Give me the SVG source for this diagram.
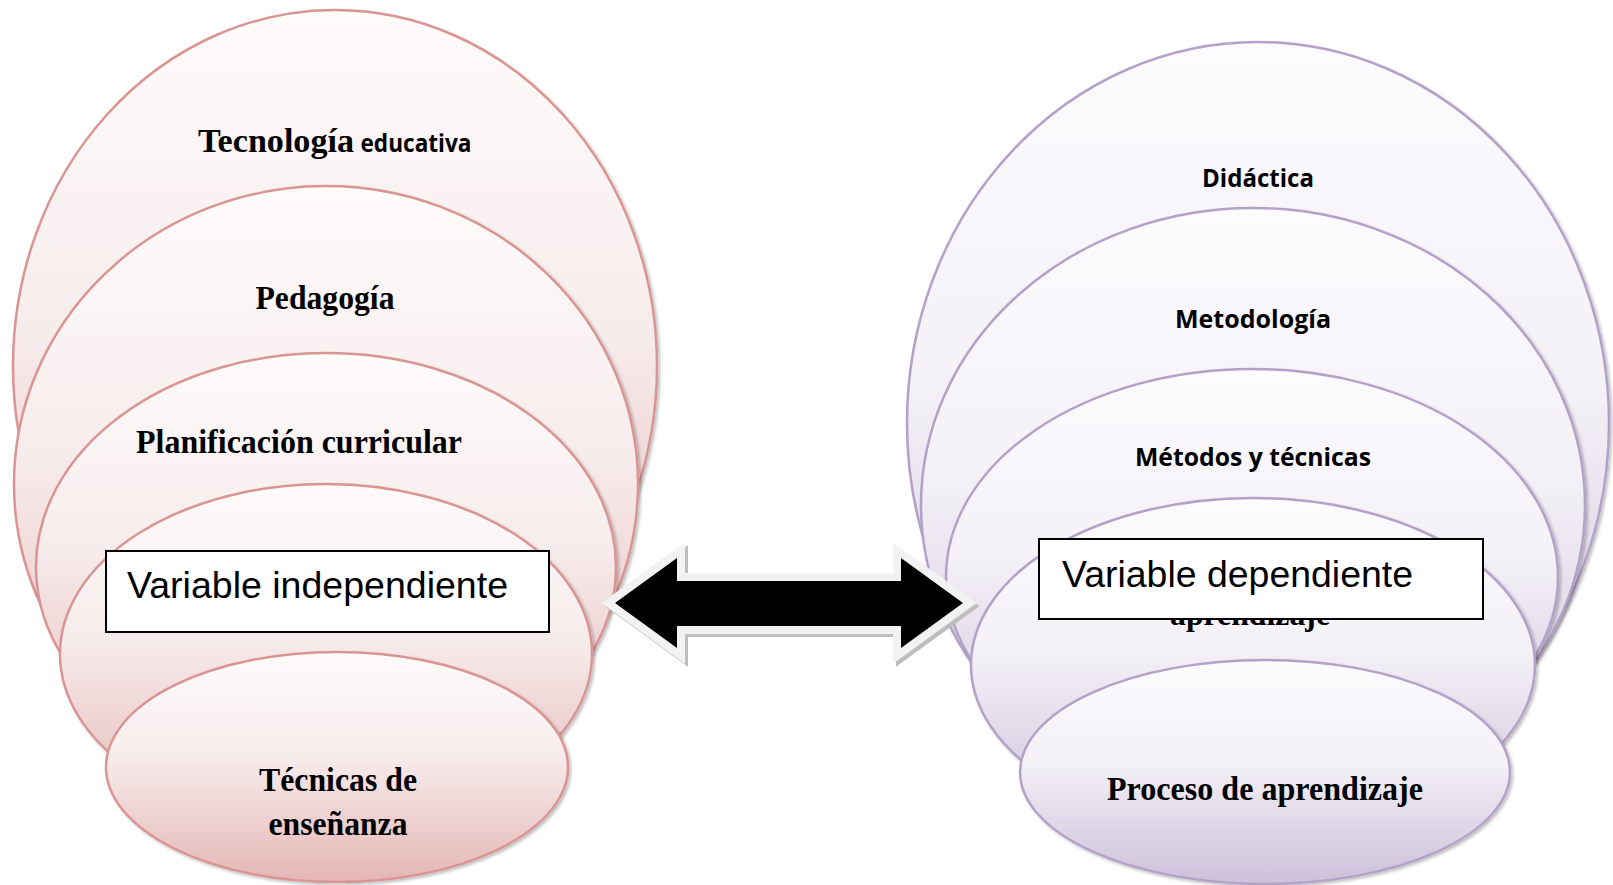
<svg xmlns="http://www.w3.org/2000/svg" width="1613" height="885" viewBox="0 0 1613 885">
<defs>
<linearGradient id="gp" x1="0" y1="0" x2="0" y2="1">
<stop offset="0" stop-color="#fefbfb"/>
<stop offset="0.45" stop-color="#f7ecec"/>
<stop offset="1" stop-color="#e4b6b5"/>
</linearGradient>
<linearGradient id="gv" x1="0" y1="0" x2="0" y2="1">
<stop offset="0" stop-color="#fcfbfd"/>
<stop offset="0.45" stop-color="#f4f1f7"/>
<stop offset="1" stop-color="#ccc0da"/>
</linearGradient>
<filter id="sh" x="-5%" y="-5%" width="115%" height="115%">
<feDropShadow dx="2" dy="2" stdDeviation="1.5" flood-color="#000" flood-opacity="0.25"/>
</filter>
</defs>
<style>
.pk{fill:url(#gp);stroke:#d99594;stroke-width:2.5;filter:url(#sh)}
.pu{fill:url(#gv);stroke:#b3a2c7;stroke-width:2.5;filter:url(#sh)}
.tr{font-family:"Liberation Serif","Times New Roman",serif;font-weight:bold;font-size:34px;fill:#000;text-anchor:middle}
.ca{font-family:"Open Sans","Noto Sans",sans-serif;font-weight:bold;font-size:25px;fill:#000;text-anchor:middle}
.bx{fill:#fff;stroke:#000;stroke-width:2}
.ar{font-family:"Liberation Sans",Arial,sans-serif;font-size:37px;fill:#000}
</style>
<rect width="1613" height="885" fill="#fff"/>

<g id="left-tecnologia">
<ellipse class="pk" cx="335" cy="366" rx="322" ry="356"/>
<text class="tr" x="276" y="152" text-anchor="middle" textLength="156" lengthAdjust="spacingAndGlyphs">Tecnología</text>
<text class="ca" x="416" y="152" textLength="111" lengthAdjust="spacingAndGlyphs">educativa</text>
</g>
<g id="left-pedagogia">
<ellipse class="pk" cx="326" cy="484" rx="312" ry="298"/>
<text class="tr" x="325" y="309" textLength="139" lengthAdjust="spacingAndGlyphs">Pedagogía</text>
</g>
<g id="left-planificacion">
<ellipse class="pk" cx="326" cy="567" rx="290" ry="214"/>
<text class="tr" x="299" y="453" textLength="326" lengthAdjust="spacingAndGlyphs">Planificación curricular</text>
</g>
<g id="left-inner">
<ellipse class="pk" cx="326" cy="654" rx="266" ry="170"/>
</g>
<g id="left-tecnicas">
<ellipse class="pk" cx="337" cy="767" rx="231" ry="115"/>
<text class="tr" x="338" y="791" textLength="158" lengthAdjust="spacingAndGlyphs">Técnicas de</text>
<text class="tr" x="338" y="835" textLength="139" lengthAdjust="spacingAndGlyphs">enseñanza</text>
</g>

<g id="right-didactica">
<ellipse class="pu" cx="1258" cy="423" rx="351" ry="381"/>
<text class="ca" x="1258" y="187" textLength="112" lengthAdjust="spacingAndGlyphs">Didáctica</text>
</g>
<g id="right-metodologia">
<ellipse class="pu" cx="1253" cy="505" rx="332" ry="297"/>
<text class="ca" x="1253" y="328" textLength="156" lengthAdjust="spacingAndGlyphs">Metodología</text>
</g>
<g id="right-metodos">
<ellipse class="pu" cx="1252" cy="577" rx="306" ry="208"/>
<text class="ca" x="1253" y="466" textLength="236" lengthAdjust="spacingAndGlyphs">Métodos y técnicas</text>
</g>
<g id="right-ensenanza">
<ellipse class="pu" cx="1253" cy="665" rx="282" ry="167"/>
<text class="tr" x="1250" y="625" textLength="160" lengthAdjust="spacingAndGlyphs">aprendizaje</text>
</g>
<g id="right-proceso">
<ellipse class="pu" cx="1265" cy="772" rx="245" ry="112"/>
<text class="tr" x="1265" y="800" textLength="316" lengthAdjust="spacingAndGlyphs">Proceso de aprendizaje</text>
</g>

<g id="connectors">
<polygon points="615,603 677,558 677,581 901,581 901,558 963,603 901,648 901,626 677,626 677,648" transform="translate(3,3)" fill="none" stroke="#bdbdbd" stroke-width="16" stroke-linejoin="miter"/>
<polygon points="615,603 677,558 677,581 901,581 901,558 963,603 901,648 901,626 677,626 677,648" fill="#000" stroke="#f2f2f2" stroke-width="16" stroke-linejoin="miter"/>
<polygon points="615,603 677,558 677,581 901,581 901,558 963,603 901,648 901,626 677,626 677,648" fill="#000"/>
</g>

<g id="box-independiente">
<rect class="bx" x="106" y="551" width="443" height="81"/>
<text class="ar" x="127" y="598" textLength="381" lengthAdjust="spacingAndGlyphs">Variable independiente</text>
</g>
<g id="box-dependiente">
<rect class="bx" x="1039" y="539" width="444" height="80"/>
<text class="ar" x="1062" y="587" textLength="351" lengthAdjust="spacingAndGlyphs">Variable dependiente</text>
</g>
</svg>
